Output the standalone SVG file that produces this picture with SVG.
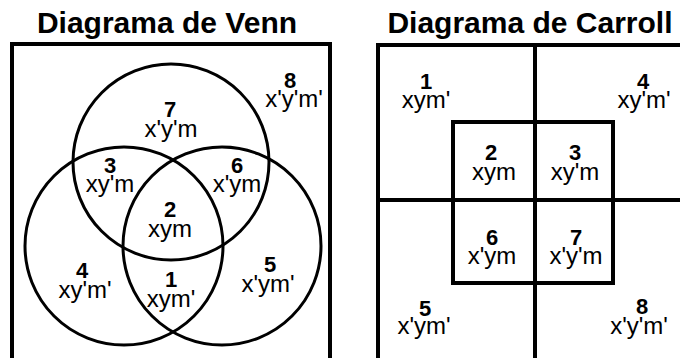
<svg xmlns="http://www.w3.org/2000/svg" width="680" height="358" viewBox="0 0 680 358">
<style>
.title{font-family:"Liberation Sans",Arial,sans-serif;font-weight:bold;font-size:30px;text-anchor:middle;fill:#000}
.n{font-family:"Liberation Sans",Arial,sans-serif;font-weight:bold;font-size:22px;text-anchor:middle;fill:#000}
.l{font-family:"Liberation Sans",Arial,sans-serif;font-size:24px;text-anchor:middle;fill:#000}
.box{fill:none;stroke:#000;stroke-width:4}
.c{fill:none;stroke:#000;stroke-width:3}
.ln{stroke:#000;stroke-width:4;fill:none}
</style>
<rect width="680" height="358" fill="#fff"/>
<text class="title" x="167" y="33">Diagrama de Venn</text>
<text class="title" x="530" y="33">Diagrama de Carroll</text>
<g id="venn">
<rect class="box" x="12" y="44" width="318" height="330"/>
<circle class="c" cx="171" cy="162" r="98"/>
<circle class="c" cx="124" cy="246" r="99"/>
<circle class="c" cx="222" cy="246" r="99"/>
</g>
<g id="venn-labels">
<g id="v8"><text class="n" x="290" y="88">8</text><text class="l" x="294" y="107">x'y'm'</text></g>
<g id="v7"><text class="n" x="170" y="117">7</text><text class="l" x="171" y="137">x'y'm</text></g>
<g id="v3"><text class="n" x="110" y="173">3</text><text class="l" x="110" y="192">xy'm</text></g>
<g id="v6"><text class="n" x="237" y="173">6</text><text class="l" x="237" y="192">x'ym</text></g>
<g id="v2"><text class="n" x="170" y="217">2</text><text class="l" x="170" y="237">xym</text></g>
<g id="v4"><text class="n" x="82" y="278">4</text><text class="l" x="85" y="298">xy'm'</text></g>
<g id="v1"><text class="n" x="171" y="287">1</text><text class="l" x="171" y="307">xym'</text></g>
<g id="v5"><text class="n" x="270" y="272">5</text><text class="l" x="268" y="292">x'ym'</text></g>
</g>
<g id="carroll">
<rect class="box" x="378" y="45" width="320" height="330"/>
<line class="ln" x1="535" y1="45" x2="535" y2="375"/>
<line class="ln" x1="378" y1="200" x2="698" y2="200"/>
<rect class="box" x="453" y="122" width="160" height="161"/>
</g>
<g id="carroll-labels">
<g id="c1"><text class="n" x="426" y="89">1</text><text class="l" x="426" y="108">xym'</text></g>
<g id="c4"><text class="n" x="643" y="89">4</text><text class="l" x="644" y="108">xy'm'</text></g>
<g id="c2"><text class="n" x="491" y="160">2</text><text class="l" x="494" y="180">xym</text></g>
<g id="c3"><text class="n" x="575" y="160">3</text><text class="l" x="575" y="180">xy'm</text></g>
<g id="c6"><text class="n" x="492" y="245">6</text><text class="l" x="492" y="264">x'ym</text></g>
<g id="c7"><text class="n" x="576" y="245">7</text><text class="l" x="576" y="264">x'y'm</text></g>
<g id="c5"><text class="n" x="425" y="316">5</text><text class="l" x="424" y="334">x'ym'</text></g>
<g id="c8"><text class="n" x="642" y="314">8</text><text class="l" x="639" y="334">x'y'm'</text></g>
</g>
</svg>
